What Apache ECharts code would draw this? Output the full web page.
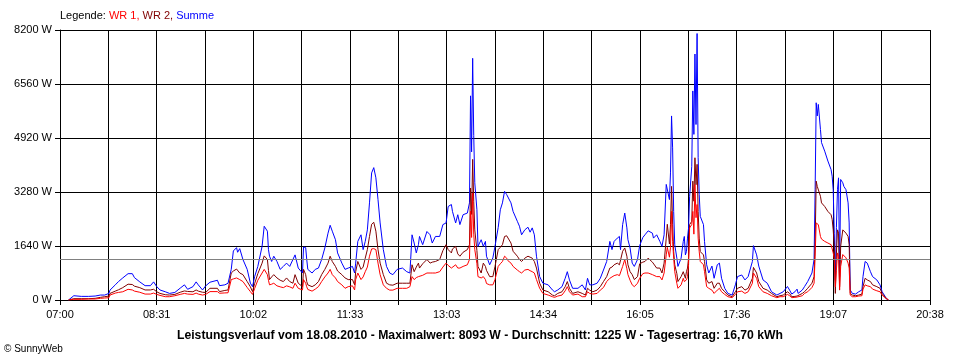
<!DOCTYPE html>
<html><head><meta charset="utf-8">
<script src="https://cdn.jsdelivr.net/npm/echarts@6/dist/echarts.min.js"></script>
<style>html,body{margin:0;padding:0;background:#fff}#c{width:960px;height:360px}</style>
</head><body><div id="c"></div>
<script>
const times = ["07:08","07:13","07:20","07:27","07:33","07:38","07:42","07:46","07:47","07:52","07:55","07:59","08:04","08:08","08:10","08:15","08:20","08:25","08:28","08:31","08:34","08:39","08:43","08:48","08:53","08:57","09:00","09:05","09:08","09:10","09:14","09:17","09:21","09:28","09:30","09:35","09:38","09:41","09:43","09:46","09:47","09:49","09:52","09:56","09:59","10:01","10:03","10:06","10:10","10:12","10:15","10:16","10:17","10:19","10:21","10:24","10:27","10:30","10:33","10:36","10:39","10:41","10:44","10:48","10:49","10:51","10:52","10:53","10:57","11:00","11:03","11:06","11:09","11:12","11:14","11:16","11:19","11:21","11:25","11:28","11:31","11:35","11:37","11:38","11:40","11:43","11:45","11:47","11:49","11:51","11:53","11:55","11:57","11:59","12:01","12:04","12:07","12:10","12:13","12:17","12:22","12:26","12:29","12:31","12:33","12:35","12:37","12:38","12:41","12:45","12:48","12:50","12:53","12:57","13:00","13:03","13:05","13:08","13:09","13:12","13:14","13:16","13:19","13:23","13:25","13:26","13:27","13:28","13:29","13:30","13:32","13:33","13:36","13:38","13:40","13:41","13:44","13:47","13:49","13:52","13:54","13:56","13:58","14:00","14:01","14:04","14:06","14:10","14:12","14:14","14:17","14:20","14:22","14:24","14:26","14:28","14:31","14:34","14:39","14:43","14:45","14:48","14:52","14:55","14:57","14:59","15:02","15:07","15:11","15:14","15:16","15:18","15:21","15:25","15:28","15:31","15:34","15:37","15:39","15:41","15:44","15:46","15:47","15:49","15:51","15:53","15:54","15:56","15:58","16:00","16:03","16:05","16:08","16:10","16:13","16:17","16:18","16:21","16:24","16:26","16:28","16:30","16:31","16:33","16:34","16:35","16:36","16:37","16:38","16:40","16:41","16:44","16:46","16:47","16:48","16:49","16:50","16:51","16:52","16:54","16:55","16:56","16:57","16:58","16:59","17:00","17:01","17:02","17:05","17:06","17:08","17:10","17:13","17:15","17:18","17:20","17:22","17:25","17:28","17:32","17:35","17:37","17:41","17:44","17:47","17:51","17:52","17:55","17:57","18:01","18:05","18:09","18:14","18:17","18:20","18:24","18:26","18:28","18:31","18:33","18:34","18:38","18:40","18:43","18:47","18:49","18:50","18:51","18:52","18:53","18:55","18:56","18:59","19:02","19:05","19:06","19:07","19:08","19:09","19:10","19:11","19:12","19:13","19:14","19:16","19:17","19:19","19:21","19:22","19:23","19:25","19:28","19:31","19:34","19:35","19:37","19:39","19:42","19:44","19:48","19:51","19:53","19:56","19:57","19:59"];
const summe = [0,130,110,110,120,150,150,200,300,460,560,670,800,800,680,550,435,435,550,405,305,250,200,230,360,460,325,405,550,460,305,430,540,600,435,460,510,930,1490,1590,1450,1560,1230,930,510,405,710,1020,1630,2240,2090,1530,1330,1170,1330,1170,930,1020,1120,1020,1230,1370,970,820,1610,1590,1230,930,820,930,970,1230,1580,2030,2270,2090,1830,1430,1120,930,970,1020,820,1120,1780,1980,1530,1780,2130,2950,3860,4020,3710,3050,2340,1530,1020,820,770,930,970,860,820,1980,1730,1430,1680,1930,1680,2080,1980,1730,1930,1930,2290,2340,2840,2900,2690,2340,2590,2290,2590,2640,2950,6200,4500,7340,5000,3560,2740,1630,1830,1630,1780,1330,1070,1280,1630,2200,2740,2950,3300,3200,3250,2950,2690,2390,2240,1980,2130,2210,2060,2190,1980,1330,710,510,460,305,250,305,405,660,860,610,355,355,460,305,660,460,460,510,660,910,1170,1780,1530,1780,1880,1930,1530,2290,2640,2190,1830,1580,1120,1020,1230,1650,1900,1980,2100,2030,1880,1980,1780,1630,1980,3510,3450,3050,3860,5590,4620,2690,1680,1270,1020,1270,1780,1930,1370,1470,1880,2190,3150,4060,6350,5030,7470,5330,8093,4320,3200,2540,2290,1780,1070,820,1030,660,1070,1120,660,355,200,150,460,710,760,610,710,1170,1650,1370,1030,610,510,250,150,200,250,410,300,180,250,330,200,305,405,560,820,1230,3350,5990,5590,5940,5180,4780,4520,4220,3960,3760,3350,2030,600,2200,3350,3710,710,3660,3560,3450,3350,2950,2340,305,200,180,250,305,710,1170,1120,860,710,610,460,250,100,30,0];
const wr2 = [0,40,40,40,50,80,100,120,200,270,310,375,480,470,420,375,305,305,325,250,200,160,150,170,235,275,260,250,305,270,235,230,355,355,255,290,305,820,880,940,880,820,770,560,400,255,500,800,1120,1340,1230,900,620,700,770,670,600,560,670,560,510,770,510,405,930,770,560,460,405,460,560,770,930,1120,1330,1170,1020,880,770,670,620,620,460,860,1170,930,1000,1270,1530,1930,2300,2360,2090,1530,1120,770,510,460,450,510,510,510,510,1070,860,1000,1120,970,1100,1230,1120,1150,1170,1230,1500,1680,1530,1430,1550,1630,1400,1330,1450,1530,1680,3400,2600,4270,3000,2130,1500,1020,820,1120,1020,900,710,710,1020,1530,1600,1680,1930,1950,1900,1730,1480,1330,1230,1170,1270,1330,1300,1270,1170,970,510,305,250,150,130,200,250,405,560,355,200,250,200,150,355,300,250,300,405,560,710,970,1000,1070,1120,1070,1020,1480,1580,1330,1070,860,770,620,710,1100,1150,1170,1270,1150,1100,970,970,820,1120,1880,2300,1700,2300,3450,2300,1470,1070,800,560,710,860,800,660,860,970,1270,2290,2390,3610,3000,4320,3500,4120,2690,1880,1470,1370,1170,610,510,560,355,510,510,355,250,150,100,250,355,405,300,355,660,990,820,560,355,300,200,100,130,150,250,200,100,110,120,130,200,250,355,510,710,1730,3610,3450,3450,3150,2950,2840,2690,2590,2450,2130,1600,200,1400,2130,2030,400,1630,2130,2100,2030,1930,1680,200,150,130,150,180,405,660,610,560,460,405,355,200,80,20,0];
const wr1 = [0,20,20,30,30,50,60,70,150,210,230,250,325,305,270,235,180,180,210,170,140,100,100,130,170,200,180,170,210,180,150,170,255,255,205,215,220,620,640,670,640,620,560,380,255,170,350,600,820,930,770,600,460,480,510,430,400,375,430,400,355,510,355,305,620,510,400,320,270,330,405,560,700,820,930,770,670,560,460,355,405,430,305,620,820,620,700,860,1000,1330,1550,1560,1530,1120,770,460,355,300,300,355,355,355,405,710,620,680,710,670,750,820,820,820,820,860,1000,1120,1050,970,1020,1070,970,970,1020,1070,1230,2700,1900,3250,2000,1530,1100,710,670,710,620,500,460,460,620,1020,1100,1170,1330,1270,1200,1120,1020,910,860,820,910,930,890,860,820,620,355,200,150,100,80,120,150,280,405,250,150,180,100,100,250,200,180,200,300,380,560,660,700,740,770,740,710,1020,1230,950,770,600,460,405,510,660,800,820,820,770,760,710,710,610,820,1370,1600,1300,1600,2690,1780,1270,860,500,355,460,660,560,510,610,710,1070,2190,2290,2690,2000,3510,2500,2900,1880,1470,1170,1070,860,405,355,300,200,300,355,250,170,100,70,170,250,270,200,250,510,820,660,405,250,200,130,70,100,100,170,130,70,80,90,90,130,200,250,380,510,1330,2340,2290,2290,1930,1850,1780,1730,1680,1630,1430,1250,400,900,1430,1330,300,1020,1380,1330,1280,1120,970,150,100,100,120,130,330,460,430,405,330,280,250,150,60,10,0];
const tickLabels = ["07:00","08:31","10:02","11:33","13:03","14:34","16:05","17:36","19:07","20:38"];
const yMax = 8200, yStep = 1640;
const average = 1225;
const legendParts = ["Legende: ", "WR 1, ", "WR 2, ", "Summe"];
const footerText = "Leistungsverlauf vom 18.08.2010 - Maximalwert: 8093 W - Durchschnitt: 1225 W - Tagesertrag: 16,70 kWh";
const creditText = "\u00A9 SunnyWeb";

const START = 7 * 60, SPAN = 818, STEPS = 18;
const unit = SPAN / STEPS;
function toX(t) { const p = t.split(':').map(Number); return (p[0] * 60 + p[1] - START) / unit; }
const mk = arr => arr.map((v, i) => [toX(times[i]), v]);
const FONT = '"Liberation Sans", Arial, sans-serif';
const black = '#000';

const chart = echarts.init(document.getElementById('c'), null, { renderer: 'canvas' });
chart.setOption({
  animation: false,
  backgroundColor: '#fff',
  title: [
    {
      left: 60, top: 10, padding: 0,
      text: '{k|' + legendParts[0] + '}{r|' + legendParts[1] + '}{d|' + legendParts[2] + '}{b|' + legendParts[3] + '}',
      textStyle: {
        fontSize: 11, fontFamily: FONT, fontWeight: 'normal',
        rich: {
          k: { color: '#000', fontSize: 11, fontFamily: FONT },
          r: { color: '#ff0000', fontSize: 11, fontFamily: FONT },
          d: { color: '#800000', fontSize: 11, fontFamily: FONT },
          b: { color: '#0000ff', fontSize: 11, fontFamily: FONT }
        }
      }
    },
    {
      left: 'center', top: 330, padding: 0, text: footerText,
      textStyle: { fontSize: 12.2, fontFamily: FONT, fontWeight: 'bold', color: '#000' }
    },
    {
      left: 4, top: 344, padding: 0, text: creditText,
      textStyle: { fontSize: 10, fontFamily: FONT, fontWeight: 'normal', color: '#000' }
    }
  ],
  grid: { left: 60, right: 30, top: 30, bottom: 60 },
  xAxis: {
    type: 'value', min: 0, max: STEPS, interval: 1,
    axisLine: { show: true, lineStyle: { color: black, width: 1 } },
    axisTick: { show: true, length: 5, lineStyle: { color: black } },
    splitLine: { show: true, lineStyle: { color: black, width: 1 } },
    axisLabel: {
      interval: 0, showMinLabel: true, showMaxLabel: true, hideOverlap: false,
      formatter: v => (Math.round(v) % 2 === 0 ? tickLabels[Math.round(v) / 2] : ''),
      color: black, fontFamily: FONT, fontSize: 11, margin: 9
    }
  },
  yAxis: {
    type: 'value', min: 0, max: yMax, interval: yStep,
    axisLine: { show: true, lineStyle: { color: black, width: 1 } },
    axisTick: { show: true, length: 5, lineStyle: { color: black } },
    splitLine: { show: true, lineStyle: { color: black, width: 1 } },
    axisLabel: { formatter: v => String(Math.round(v)) + ' W', color: black, fontFamily: FONT, fontSize: 11, margin: 8 }
  },
  series: [
    {
      name: 'Summe', type: 'line', data: mk(summe), symbol: 'none', showSymbol: false,
      lineStyle: { color: '#0000ff', width: 1 }, itemStyle: { color: '#0000ff' },
      markLine: {
        silent: true, symbol: ['none', 'none'], label: { show: false },
        lineStyle: { color: '#808080', type: 'solid', width: 1 },
        data: [{ yAxis: average }]
      }
    },
    {
      name: 'WR 2', type: 'line', data: mk(wr2), symbol: 'none', showSymbol: false,
      lineStyle: { color: '#800000', width: 1 }, itemStyle: { color: '#800000' }
    },
    {
      name: 'WR 1', type: 'line', data: mk(wr1), symbol: 'none', showSymbol: false,
      lineStyle: { color: '#ff0000', width: 1 }, itemStyle: { color: '#ff0000' }
    }
  ]
});
</script>
</body></html>
